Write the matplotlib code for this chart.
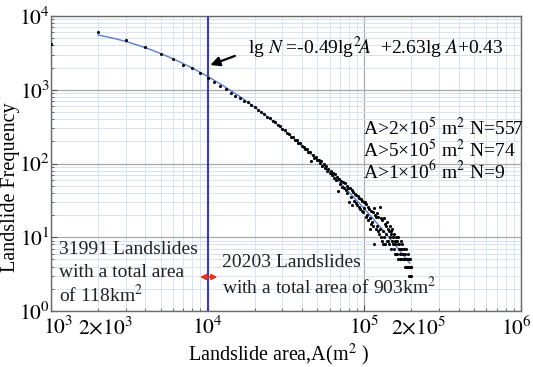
import numpy as np
import matplotlib
matplotlib.use('Agg')
import matplotlib.pyplot as plt
import matplotlib.transforms as mtransforms
from matplotlib.ticker import FixedLocator, FuncFormatter, NullFormatter

plt.rcParams['font.family'] = ['Liberation Serif', 'DejaVu Serif']
plt.rcParams['mathtext.fontset'] = 'stix'

# ---- data (area bins of 1000 m^2, k = 1..200) ----
bin_width = 1000
area_k = np.arange(1, 201)
freq = [
    4200, 6100, 4800, 3800, 3100, 2650, 2150, 1950, 1670, 1430, 1290, 1120, 1010, 910, 820, 765, 710,
    690, 625, 590, 535, 505, 470, 430, 410, 372, 360, 330, 318, 292,
    284, 262, 255, 232, 228, 210, 206, 190, 187, 171,
    170, 156, 156, 143, 142, 108, 132, 120, 121, 110,
    113, 102, 108, 92, 99, 88, 92, 80, 85, 74,
    80, 70, 74, 64, 72, 60, 66, 42, 62, 52,
    58, 48, 56, 46, 54, 44, 50, 40, 47, 30,
    46, 35, 44, 27, 41, 31, 38, 29, 37, 27,
    36, 26, 34, 24, 33, 23, 31, 22, 30, 25,
    30, 19, 28, 20, 26, 17, 24, 18, 13, 15, 23, 16, 22, 14, 25, 8, 20, 13, 19, 14,
    21, 12, 19, 11, 26, 13, 18, 10, 17, 9, 8, 12, 18, 10, 15, 8, 14, 11, 16, 9,
    13, 9, 12, 8, 14, 10, 11, 7, 12, 9, 13, 8, 10, 7, 11, 6, 9, 8, 10, 6,
    9, 6, 8, 5, 10, 7, 8, 5, 7, 6, 9, 5, 7, 6, 8, 5, 6, 5, 7, 5,
    6, 4, 5, 5, 7, 4, 5, 4, 6, 4, 5, 4, 5, 3, 4, 5, 3, 4, 4, 3,
]
area = area_k * bin_width
freq = np.array(freq, dtype=float)
threshold_area = 1e4
fit_range = (2e3, 1.95e5)

x_major = [1e3, 1e4, 1e5, 1e6]
x_major_labels = ['$10^3$', '$10^4$', '$10^5$', '$10^6$']
x_minor_labeled = {2e3: r'$2{\times}10^3$', 2e5: r'$2{\times}10^5$'}
y_major = [1e0, 1e1, 1e2, 1e3, 1e4]
y_major_labels = ['$10^0$', '$10^1$', '$10^2$', '$10^3$', '$10^4$']

equation = r'lg $N$ =-0.49lg$^2\!A$  +2.63lg $A$+0.43'
stats_lines = [r'A>2×10$^5$ m$^2$ N=557', r'A>5×10$^5$ m$^2$ N=74', r'A>1×10$^6$ m$^2$ N=9']
left_lines = ['31991 Landslides', 'with a total area', r'of 118km$^2$']
right_lines = ['20203 Landslides', r'with a total area of 903km$^2$']

# ---- figure ----
W, H = 533, 367
fig = plt.figure(figsize=(W / 100, H / 100), dpi=100)
ax = fig.add_axes([51 / W, 1 - 311 / H, 470 / W, 295 / H])
ax.set_xscale('log')
ax.set_yscale('log')
ax.set_xlim(1e3, 1e6)
ax.set_ylim(1e0, 1e4)

# grid
ax.grid(which='minor', color='#d6e3f2', lw=0.7)
ax.grid(which='major', color='#a9a9a9', lw=0.9)
ax.set_axisbelow(True)

# ticks
ax.xaxis.set_major_locator(FixedLocator(x_major))
ax.set_xticklabels(x_major_labels)
minor_x = [m * d for d in [1e3, 1e4, 1e5] for m in range(2, 10)]
ax.xaxis.set_minor_locator(FixedLocator(minor_x))
ax.xaxis.set_minor_formatter(FuncFormatter(lambda v, p: x_minor_labeled.get(round(v), '')))
ax.yaxis.set_major_locator(FixedLocator(y_major))
ax.set_yticklabels(y_major_labels)
minor_y = [m * d for d in [1e0, 1e1, 1e2, 1e3] for m in range(2, 10)]
ax.yaxis.set_minor_locator(FixedLocator(minor_y))
ax.yaxis.set_minor_formatter(NullFormatter())
ax.tick_params(which='both', direction='in', colors='#555555', labelcolor='black', labelsize=15.5)
ax.tick_params(which='major', length=4, width=0.8)
ax.tick_params(which='minor', length=2.5, width=0.6)
ax.tick_params(axis='x', which='both', pad=4)
ax.tick_params(axis='y', which='both', pad=0.5)
for s in ax.spines.values():
    s.set_color('#6a6a6a')
    s.set_linewidth(1.0)

# nudge some x tick labels as in the reference
fig.canvas.draw()
def shift(lbl, dx):
    lbl.set_transform(lbl.get_transform() + mtransforms.ScaledTranslation(dx / 100, 0, fig.dpi_scale_trans))
for lbl in ax.get_xticklabels():
    t = lbl.get_text()
    if '10^3' in t:
        shift(lbl, 7)
    elif '10^6' in t:
        shift(lbl, -5)
for lbl in ax.xaxis.get_minorticklabels():
    if lbl.get_text():
        shift(lbl, 7)

# data
ax.scatter(area, freq, s=5, c='black', marker='o', linewidths=0, zorder=4)
sel = area >= fit_range[0]
coef = np.polyfit(np.log10(area[sel]), np.log10(freq[sel]), 2)
xf = np.logspace(np.log10(fit_range[0]), np.log10(fit_range[1]), 300)
ax.plot(xf, 10 ** np.polyval(coef, np.log10(xf)), color='#5b7fd0', lw=1.0, zorder=3)
ax.axvline(threshold_area, color='#3d3da8', lw=1.5, zorder=3)

# equation + arrow
ax.annotate('', xy=(1.0e4, 2100), xytext=(1.55e4, 2960),
            arrowprops=dict(arrowstyle='-|>', color='black', lw=1.6, mutation_scale=14), zorder=5)
ax.text(1.8e4, 3680, equation, fontsize=14, va='center', ha='left')

for i, t in enumerate(stats_lines):
    ax.text(0.664, [0.620, 0.546, 0.475][i], t, transform=ax.transAxes, fontsize=14, va='center', ha='left')
for i, t in enumerate(left_lines):
    ax.text(0.017, [0.207, 0.132, 0.054][i], t, transform=ax.transAxes, fontsize=14, va='center', ha='left', color='#222222')
for i, t in enumerate(right_lines):
    ax.text(0.364, [0.163, 0.081][i], t, transform=ax.transAxes, fontsize=14, va='center', ha='left', color='#222222')

ax.annotate('', xy=(0.311, 0.115), xytext=(0.360, 0.115), xycoords='axes fraction',
            arrowprops=dict(arrowstyle='<|-|>', color='#e8321e', lw=1.3, mutation_scale=8), zorder=6)

fig.text(11 / W, 1 - 187 / H, 'Landslide Frequency', rotation=90, ha='center', va='center', fontsize=14.5)
fig.text(278 / W, 1 - 355 / H, 'Landslide area,A(m$^2$ )', ha='center', va='center', fontsize=14.5)

fig.savefig('out.png', dpi=100)
